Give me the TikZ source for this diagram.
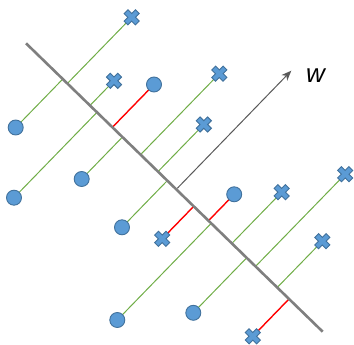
\documentclass[tikz,border=0pt]{standalone}
\usepackage{fontspec}
\setmainfont{Liberation Sans}
\usetikzlibrary{calc,arrows.meta,backgrounds}
\definecolor{ptfill}{HTML}{5B9BD5}
\definecolor{ptline}{HTML}{41719C}
\definecolor{projgreen}{HTML}{70AD47}
\definecolor{axisgray}{HTML}{7F7F7F}
\definecolor{arrowgray}{HTML}{595959}
\tikzset{
  circpt/.style={circle, minimum size=15pt, inner sep=0pt, fill=ptfill, draw=ptline, line width=0.9pt},
  crosspt/.style={rectangle, minimum size=18pt, inner sep=0pt,
    path picture={\draw[fill=ptfill, draw=ptline, line width=0.9pt,
      shift={(path picture bounding box.center)}]
      (-3.748pt,7.566pt) -- (0pt,3.818pt) -- (3.748pt,7.566pt) -- (7.566pt,3.748pt)
      -- (3.818pt,0pt) -- (7.566pt,-3.748pt) -- (3.748pt,-7.566pt) -- (0pt,-3.818pt)
      -- (-3.748pt,-7.566pt) -- (-7.566pt,-3.748pt) -- (-3.818pt,0pt)
      -- (-7.566pt,3.748pt) -- cycle;}},
  goodproj/.style={draw=projgreen, line width=1pt},
  badproj/.style={draw=red, line width=1.4pt},
  axisline/.style={draw=axisgray, line width=2.6pt},
  warrow/.style={draw=arrowgray, line width=1pt, -{Stealth[length=10pt,width=8pt,inset=3pt]}}
}
\begin{document}
\begin{tikzpicture}[x=1pt,y=-1pt]
\useasboundingbox (0,0) rectangle (354,345);
\coordinate (g1) at (26,43.3);
\coordinate (g2) at (322.7,331.7);
% circles
\node[circpt] (o1) at (15.7,127.5) {};
\node[circpt] (o2) at (154,84.5) {};
\node[circpt] (o3) at (14,197.7) {};
\node[circpt] (o4) at (81.7,179) {};
\node[circpt] (o5) at (122,227.3) {};
\node[circpt] (o6) at (117.3,320) {};
\node[circpt] (o7) at (234.2,194.3) {};
\node[circpt] (o8) at (193.3,312.8) {};
% crosses
\node[crosspt] (c1) at (131.7,17.3) {};
\node[crosspt] (c2) at (114,80.8) {};
\node[crosspt] (c3) at (219.3,73.7) {};
\node[crosspt] (c4) at (203.8,124.5) {};
\node[crosspt] (c5) at (162.2,238.8) {};
\node[crosspt] (c6) at (281.7,192.2) {};
\node[crosspt] (c7) at (345.2,174.2) {};
\node[crosspt] (c8) at (322.3,241.2) {};
\node[crosspt] (c9) at (252.8,336.3) {};
% label
\node[font=\fontsize{26}{26}\selectfont\itshape, inner sep=0pt] (w) at (315.5,76) {w};
\coordinate (a0) at (177.3,188.3);
\coordinate (a1) at (291.3,70.7);
\begin{scope}[on background layer]
  \foreach \p in {o1,o3,o4,o5,o6,o8,c1,c2,c3,c4,c6,c7,c8} {
    \coordinate (f\p) at ($(g1)!(\p.center)!(g2)$);
    \draw[goodproj] (\p.center) -- (f\p);
  }
  \foreach \p in {o2,o7,c5,c9} {
    \coordinate (f\p) at ($(g1)!(\p.center)!(g2)$);
    \draw[badproj] (\p.center) -- (f\p);
  }
  \draw[axisline] (g1) -- (g2);
  \draw[warrow] (a0) -- (a1);
\end{scope}
\end{tikzpicture}
\end{document}
